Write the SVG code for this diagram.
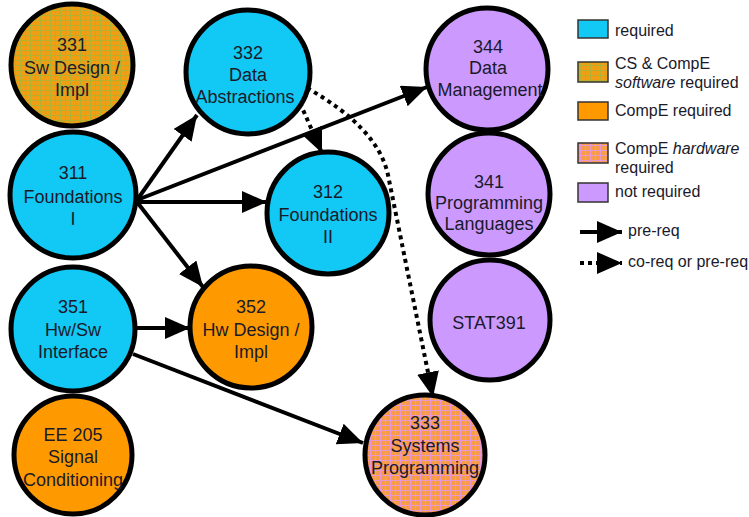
<svg xmlns="http://www.w3.org/2000/svg" width="749" height="517" viewBox="0 0 749 517">
<style>
.node{stroke:#000;stroke-width:5}
.t{font-family:"Liberation Sans",Arial,sans-serif;font-size:18px;fill:#1a1a2a;text-anchor:middle}
.lg{font-family:"Liberation Sans",Arial,sans-serif;font-size:16px;fill:#1a1a2a}
.sw{stroke:#333;stroke-width:1.5}
.req{fill:#12C8F4}
.ce{fill:#FF9900}
.nr{fill:#CC99FF}
.cs{fill:url(#pCS)}
.hw{fill:url(#pHW)}
.e{fill:none;stroke:#000;stroke-width:4;marker-end:url(#ah)}
.d{fill:none;stroke:#000;stroke-width:4;stroke-dasharray:4 4;marker-end:url(#ah)}
</style>
<defs>
<pattern id="pCS" width="5" height="5" patternUnits="userSpaceOnUse">
<rect width="5" height="5" fill="#F29E14"/>
<rect x="0" y="0" width="5" height="1" fill="#B4B030"/>
<rect x="0" y="0" width="1" height="5" fill="#B4B030"/>
</pattern>
<pattern id="pHW" width="5" height="5" patternUnits="userSpaceOnUse">
<rect width="5" height="5" fill="#F89C48"/>
<rect x="0" y="0" width="5" height="1" fill="#E898D0"/>
<rect x="0" y="0" width="1" height="5" fill="#E898D0"/>
</pattern>
<marker id="ah" markerUnits="userSpaceOnUse" markerWidth="28" markerHeight="24" refX="25" refY="11" orient="auto">
<path d="M0,0 L25,11 L0,22 z" fill="#000"/>
</marker>
</defs>

<g id="connectors">
<path class="e" d="M137,200 L197,115"/>
<path class="e" d="M137,200 L427,87"/>
<path class="e" d="M137,202 L267,202"/>
<path class="e" d="M137,202 L203,287"/>
<path class="e" d="M137,328 L190,328"/>
<path class="e" d="M133,354 L363,443"/>
<path class="d" d="M300,103 L322,153"/>
<path class="d" d="M307,88 Q378,128 388,175 L433,397"/>
</g>

<g id="n331"><circle class="node cs" cx="72" cy="65" r="61"/>
<text class="t" x="72" y="51">331</text><text class="t" x="72" y="74">Sw Design /</text><text class="t" x="72" y="96">Impl</text></g>
<g id="n332"><circle class="node req" cx="248" cy="72" r="62"/>
<text class="t" x="248" y="59">332</text><text class="t" x="248" y="81">Data</text><text class="t" x="245" y="103">Abstractions</text></g>
<g id="n344"><circle class="node nr" cx="487" cy="69" r="61"/>
<text class="t" x="488" y="53">344</text><text class="t" x="488" y="74">Data</text><text class="t" x="490" y="96">Management</text></g>
<g id="n311"><circle class="node req" cx="73" cy="195" r="63"/>
<text class="t" x="73" y="179">311</text><text class="t" x="73" y="203">Foundations</text><text class="t" x="73" y="225">I</text></g>
<g id="n312"><circle class="node req" cx="328" cy="213" r="61"/>
<text class="t" x="328" y="198">312</text><text class="t" x="328" y="221">Foundations</text><text class="t" x="328" y="243">II</text></g>
<g id="n341"><circle class="node nr" cx="489" cy="194" r="61"/>
<text class="t" x="489" y="188">341</text><text class="t" x="489" y="209">Programming</text><text class="t" x="489" y="230">Languages</text></g>
<g id="n351"><circle class="node req" cx="73" cy="329" r="62"/>
<text class="t" x="73" y="313">351</text><text class="t" x="73" y="336">Hw/Sw</text><text class="t" x="73" y="358">Interface</text></g>
<g id="n352"><circle class="node ce" cx="251" cy="327" r="61"/>
<text class="t" x="251" y="313">352</text><text class="t" x="251" y="336">Hw Design /</text><text class="t" x="251" y="358">Impl</text></g>
<g id="n391"><circle class="node nr" cx="490" cy="320" r="60"/>
<text class="t" x="489" y="329">STAT391</text></g>
<g id="n205"><circle class="node ce" cx="73" cy="455" r="59"/>
<text class="t" x="73" y="441">EE 205</text><text class="t" x="73" y="463">Signal</text><text class="t" x="73" y="486">Conditioning</text></g>
<g id="n333"><circle class="node hw" cx="425" cy="455" r="60"/>
<text class="t" x="425" y="429">333</text><text class="t" x="425" y="452">Systems</text><text class="t" x="425" y="474">Programming</text></g>

<g id="legend">
<rect class="sw req" x="578" y="20" width="30" height="18"/>
<text class="lg" x="615" y="36">required</text>
<rect class="sw cs" x="578" y="62" width="30" height="20"/>
<text class="lg" x="615" y="69">CS &amp; CompE</text>
<text class="lg" x="615" y="88"><tspan font-style="italic">software</tspan> required</text>
<rect class="sw ce" x="578" y="102" width="30" height="18"/>
<text class="lg" x="615" y="116">CompE required</text>
<rect class="sw hw" x="578" y="143" width="30" height="20"/>
<text class="lg" x="615" y="154">CompE <tspan font-style="italic">hardware</tspan></text>
<text class="lg" x="615" y="173">required</text>
<rect class="sw nr" x="578" y="183" width="30" height="19"/>
<text class="lg" x="615" y="197">not required</text>
<path class="e" d="M580,232 L622,232"/>
<text class="lg" x="628" y="236">pre-req</text>
<path class="d" d="M580,263 L622,263"/>
<text class="lg" x="628" y="267">co-req or pre-req</text>
</g>
</svg>
